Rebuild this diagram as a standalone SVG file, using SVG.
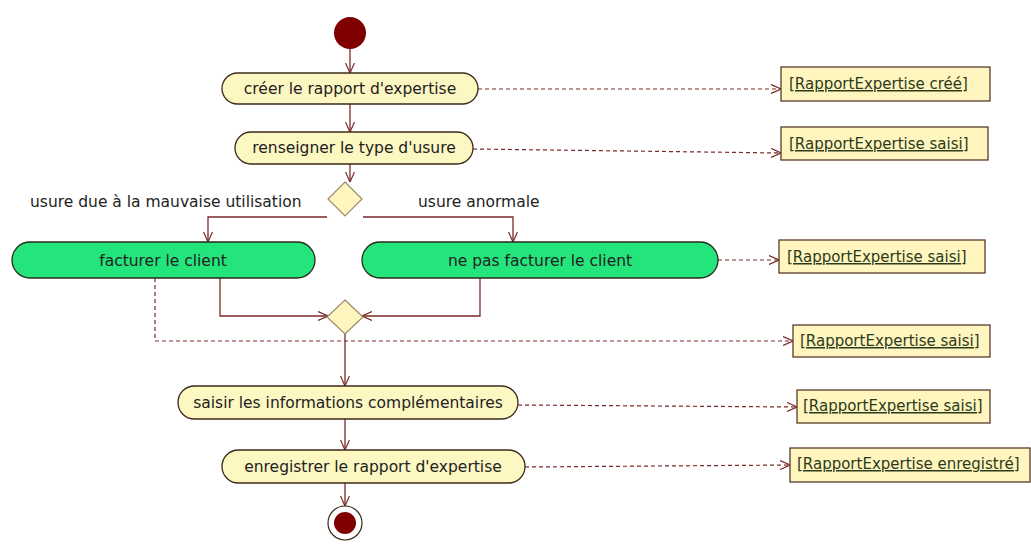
<svg xmlns="http://www.w3.org/2000/svg" width="1031" height="560" viewBox="0 0 1031 560">
<style>
.act{fill:#fdf7c2;stroke:#3b2a1a;stroke-width:1.3}
.grn{fill:#24e57c;stroke:#2a2a1a;stroke-width:1.3}
.obj{fill:#fff6bf;stroke:#5a3a2a;stroke-width:1.3}
.dec{fill:#fff6bf;stroke:#9a8a6a;stroke-width:1.2}
.t{font-family:"DejaVu Sans",sans-serif;font-size:15.5px;fill:#222;text-anchor:middle}
.lbl{font-family:"DejaVu Sans",sans-serif;font-size:15.5px;fill:#222}
.ot{font-family:"DejaVu Sans",sans-serif;font-size:15px;fill:#2c3a1c;text-decoration:underline}
.flow{fill:none;stroke:#7a2a2a;stroke-width:1.3;marker-end:url(#arr)}
.dash{fill:none;stroke:#7a2a2a;stroke-width:1.2;stroke-dasharray:4,3;marker-end:url(#arr)}
</style>
<defs>
<marker id="arr" viewBox="0 0 10 10" refX="10" refY="5" markerWidth="10" markerHeight="10" markerUnits="userSpaceOnUse" orient="auto">
<path d="M0,0.5 L10,5 L0,9.5" fill="none" stroke="#7a2a2a" stroke-width="1.2"/>
</marker>
</defs>
<rect width="1031" height="560" fill="#ffffff"/>
<g id="connectors">
<path class="flow" d="M350,49 V73"/>
<path class="flow" d="M350,104 V132"/>
<path class="flow" d="M350,164 V182"/>
<path class="flow" d="M327,217 H208 V242"/>
<path class="flow" d="M363,217 H513 V242"/>
<path class="flow" d="M220,278 V316 H328"/>
<path class="flow" d="M480,278 V316 H362"/>
<path class="flow" d="M345,334 V386"/>
<path class="flow" d="M345,419 V450"/>
<path class="flow" d="M345,483 V506"/>
<path class="dash" d="M478,89 H781"/>
<path class="dash" d="M473,149 L781,153"/>
<path class="dash" d="M718,260 H779"/>
<path class="dash" d="M155,278 V341 H793"/>
<path class="dash" d="M518,405 L797,407"/>
<path class="dash" d="M525,467 L790,465"/>
</g>
<g id="start"><circle cx="350" cy="33" r="16" fill="#800000"/></g>
<g id="a1"><rect class="act" x="222" y="73" width="256" height="31" rx="15.5"/><text class="t" x="350" y="94">créer le rapport d'expertise</text></g>
<g id="a2"><rect class="act" x="235" y="132" width="238" height="32" rx="16"/><text class="t" x="354" y="153">renseigner le type d'usure</text></g>
<g id="d1"><polygon class="dec" points="345,182 362,199 345,216 328,199"/></g>
<g id="lbl1"><text class="lbl" x="30" y="207">usure due à la mauvaise utilisation</text></g>
<g id="lbl2"><text class="lbl" x="418" y="207">usure anormale</text></g>
<g id="a3"><rect class="grn" x="12" y="242" width="303" height="36" rx="18"/><text class="t" x="163" y="266">facturer le client</text></g>
<g id="a4"><rect class="grn" x="362" y="242" width="356" height="36" rx="18"/><text class="t" x="540" y="266">ne pas facturer le client</text></g>
<g id="d2"><polygon class="dec" points="345,300 363,317 345,334 327,317"/></g>
<g id="a5"><rect class="act" x="178" y="386" width="340" height="33" rx="16.5"/><text class="t" x="348" y="408">saisir les informations complémentaires</text></g>
<g id="a6"><rect class="act" x="222" y="450" width="303" height="33" rx="16.5"/><text class="t" x="373" y="472">enregistrer le rapport d'expertise</text></g>
<g id="end"><circle cx="345" cy="523" r="17" fill="#ffffff" stroke="#3b2a1a" stroke-width="1.2"/><circle cx="345" cy="523" r="11" fill="#800000"/></g>
<g id="o1"><rect class="obj" x="781" y="67" width="209" height="34"/><text class="ot" x="789" y="89">[RapportExpertise créé]</text></g>
<g id="o2"><rect class="obj" x="781" y="127" width="207" height="33"/><text class="ot" x="789" y="149">[RapportExpertise saisi]</text></g>
<g id="o3"><rect class="obj" x="779" y="240" width="206" height="33"/><text class="ot" x="787" y="262">[RapportExpertise saisi]</text></g>
<g id="o4"><rect class="obj" x="793" y="325" width="197" height="32"/><text class="ot" x="800" y="346">[RapportExpertise saisi]</text></g>
<g id="o5"><rect class="obj" x="797" y="390" width="193" height="33"/><text class="ot" x="803" y="411">[RapportExpertise saisi]</text></g>
<g id="o6"><rect class="obj" x="790" y="448" width="240" height="34"/><text class="ot" x="797" y="469">[RapportExpertise enregistré]</text></g>
</svg>
